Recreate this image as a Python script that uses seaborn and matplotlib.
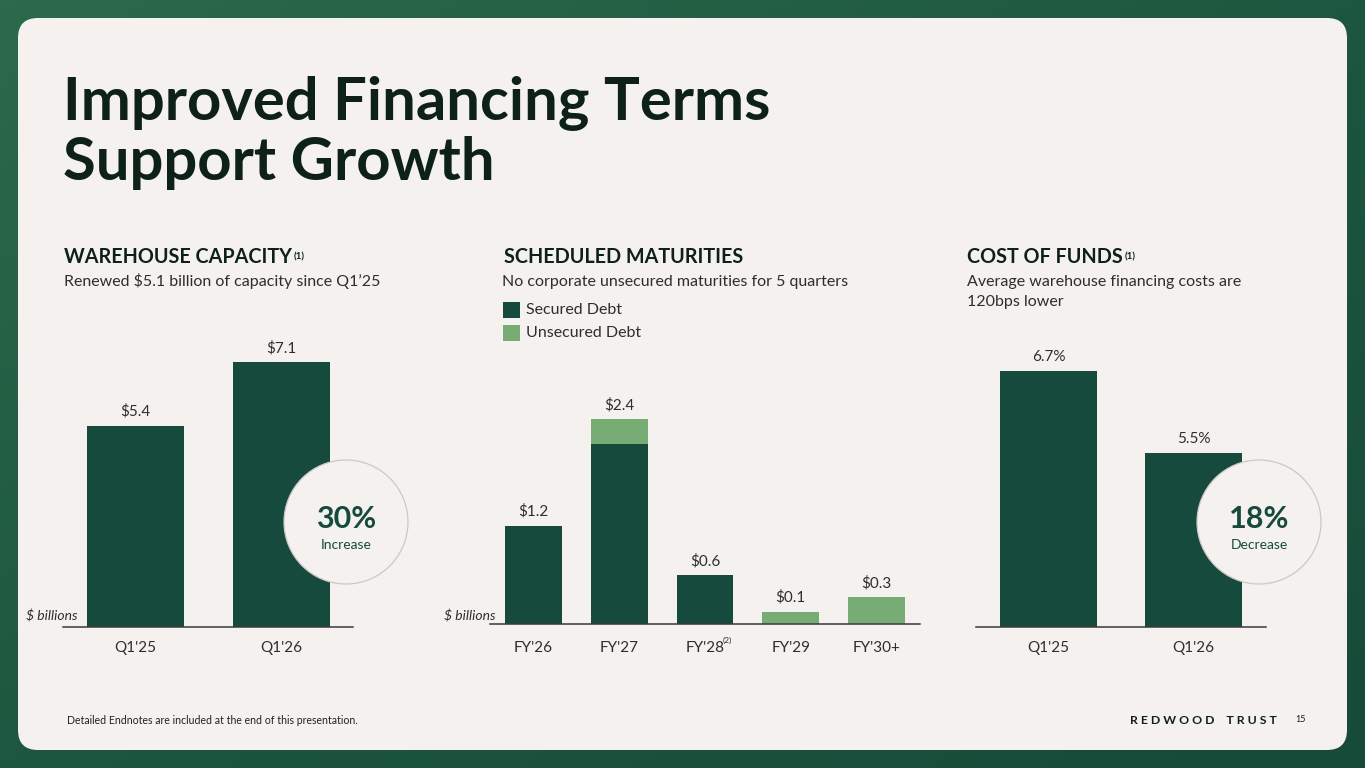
import numpy as np
import matplotlib.pyplot as plt
import seaborn as sns
from matplotlib.patches import FancyBboxPatch, Circle, Rectangle
from matplotlib.colors import LinearSegmentedColormap

# --- data ---
capacity_quarters = ["Q1'25", "Q1'26"]
capacity_values = [5.4, 7.1]
capacity_labels = ["$5.4", "$7.1"]

maturity_years = ["FY'26", "FY'27", "FY'28", "FY'29", "FY'30+"]
secured_debt = [1.2, 2.2, 0.6, 0.0, 0.0]
unsecured_debt = [0.0, 0.3, 0.0, 0.15, 0.33]
maturity_labels = ["$1.2", "$2.4", "$0.6", "$0.1", "$0.3"]

cost_quarters = ["Q1'25", "Q1'26"]
cost_values = [6.7, 5.5]
cost_labels = ["6.7%", "5.5%"]

DARK = "#154a3c"
LIGHT = "#77ad74"
CARD = "#f4f1ee"
INK = "#0e2118"
TEXT = "#2e2e2e"

sns.set_style("white")
plt.rcParams["font.family"] = ["Lato", "DejaVu Sans"]

W, H = 1365, 768
fig = plt.figure(figsize=(W / 100, H / 100), dpi=100)


def px_axes(x0, y0, x1, y1):
    # box given in slide pixels (origin top-left)
    return fig.add_axes([x0 / W, 1 - y1 / H, (x1 - x0) / W, (y1 - y0) / H])


# background gradient + card
bg = px_axes(0, 0, W, H)
bg.set_xlim(0, W)
bg.set_ylim(H, 0)
bg.axis("off")
gx, gy = np.meshgrid(np.linspace(0, 1, 200), np.linspace(0, 1, 120))
cmap = LinearSegmentedColormap.from_list("bg", ["#2b6a4b", "#1d573f", "#164a39"])
bg.imshow(gx * 0.5 + gy * 0.5, cmap=cmap, extent=(0, W, H, 0), aspect="auto")
bg.add_patch(FancyBboxPatch((18, 18), 1329, 732, boxstyle="round,pad=0,rounding_size=20",
                            facecolor=CARD, edgecolor="none"))


def style_axes(ax, tick_pad=10):
    ax.set_facecolor("none")
    sns.despine(ax=ax, left=True)
    ax.spines["bottom"].set_color("#3a3a3a")
    ax.spines["bottom"].set_linewidth(1.1)
    ax.set_yticks([])
    ax.set_xlabel("")
    ax.set_ylabel("")
    ax.tick_params(axis="x", length=0, pad=tick_pad, labelsize=11, labelcolor=TEXT)


bar_kw = dict(saturation=1, linewidth=0, edgecolor="none")

# warehouse capacity
ax1 = px_axes(63, 290, 353, 627)
sns.barplot(x=capacity_quarters, y=capacity_values, color=DARK, width=0.664, ax=ax1, **bar_kw)
ax1.set_xlim(-0.497, 1.49)
ax1.set_ylim(0, (627 - 290) / 37.3)
style_axes(ax1)
for i, v in enumerate(capacity_values):
    ax1.annotate(capacity_labels[i], (i, v), xytext=(0, 7), textcoords="offset points",
                 ha="center", va="baseline", fontsize=11, color=TEXT)

# scheduled maturities (stacked: totals in light, secured on top in dark)
totals = [s + u for s, u in zip(secured_debt, unsecured_debt)]
ax2 = px_axes(490, 370, 920, 624)
sns.barplot(x=maturity_years, y=totals, color=LIGHT, width=0.663, ax=ax2, **bar_kw)
sns.barplot(x=maturity_years, y=secured_debt, color=DARK, width=0.663, ax=ax2, **bar_kw)
ax2.set_xlim(-0.506, 4.506)
ax2.set_ylim(0, (624 - 370) / 82)
style_axes(ax2, tick_pad=12)
for i, v in enumerate(totals):
    ax2.annotate(maturity_labels[i], (i, v), xytext=(0, 7), textcoords="offset points",
                 ha="center", va="baseline", fontsize=11, color=TEXT)

# cost of funds
ax3 = px_axes(976, 320, 1266, 627)
sns.barplot(x=cost_quarters, y=cost_values, color=DARK, width=0.669, ax=ax3, **bar_kw)
ax3.set_xlim(-0.5, 1.5)
ax3.set_ylim(2.95, 2.95 + (627 - 320) / 68.3)
style_axes(ax3)
for i, v in enumerate(cost_values):
    ax3.annotate(cost_labels[i], (i, v), xytext=(0, 7), textcoords="offset points",
                 ha="center", va="baseline", fontsize=11, color=TEXT)

# overlay for text, circles and legend (pixel coords)
ov = px_axes(0, 0, W, H)
ov.set_xlim(0, W)
ov.set_ylim(H, 0)
ov.axis("off")
ov.patch.set_alpha(0)

ov.text(63, 120, "Improved Financing Terms", fontsize=43, weight="bold", color=INK, va="baseline")
ov.text(63, 180, "Support Growth", fontsize=43, weight="bold", color=INK, va="baseline")

headers = [(64, "WAREHOUSE CAPACITY", True), (504, "SCHEDULED MATURITIES", False),
           (967, "COST OF FUNDS", True)]
head_texts = []
for x, txt, note in headers:
    t = ov.text(x, 263, txt, fontsize=14.2, weight="bold", color=INK, va="baseline")
    head_texts.append((t, note))

ov.text(64, 286, "Renewed $5.1 billion of capacity since Q1\u201925", fontsize=11.5, color=TEXT, va="baseline")
ov.text(502, 286, "No corporate unsecured maturities for 5 quarters", fontsize=11.5, color=TEXT, va="baseline")
ov.text(967, 286, "Average warehouse financing costs are", fontsize=11.5, color=TEXT, va="baseline")
ov.text(967, 306, "120bps lower", fontsize=11.5, color=TEXT, va="baseline")

# legend
for y, col, lab in [(302, DARK, "Secured Debt"), (325, LIGHT, "Unsecured Debt")]:
    ov.add_patch(Rectangle((503, y), 17, 16, facecolor=col, edgecolor="none"))
    ov.text(526, y + 8, lab, fontsize=11.5, color=TEXT, va="center")

ov.text(78, 616, "$ billions", fontsize=10, style="italic", color=TEXT, ha="right", va="center")
ov.text(496, 616, "$ billions", fontsize=10, style="italic", color=TEXT, ha="right", va="center")
ov.text(723, 640, "(2)", fontsize=6, color=TEXT, ha="left", va="center")

# change circles
for cx, big, small in [(346, "30%", "Increase"), (1259, "18%", "Decrease")]:
    ov.add_patch(Circle((cx, 522), 62, facecolor=CARD, edgecolor="#cdc8c3", linewidth=0.9))
    ov.text(cx, 528, big, fontsize=22, weight="bold", color=DARK, ha="center", va="baseline")
    ov.text(cx, 545, small, fontsize=10, color=DARK, ha="center", va="center")

# footer
ov.text(67, 720, "Detailed Endnotes are included at the end of this presentation.",
        fontsize=7.6, color="#222222", va="center")
ov.text(1277, 720, "R E D W O O D    T R U S T", fontsize=8.8, weight="bold", color=INK,
        ha="right", va="center")
ov.text(1295, 720, "15", fontsize=6.5, color=INK, va="center")

# superscript note markers after headers
fig.canvas.draw()
for t, note in head_texts:
    if note:
        bb = t.get_window_extent()
        ov.text(bb.x1 + 2, 257, "(1)", fontsize=7, weight="bold", color=INK, va="center")

fig.savefig("out.png", dpi=100)
